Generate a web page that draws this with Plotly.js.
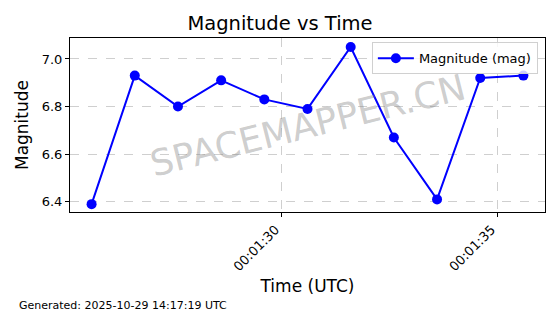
<!DOCTYPE html>
<html>
<head>
<meta charset="utf-8">
<script src="https://cdn.plot.ly/plotly-3.0.1.min.js"></script>
<style>html,body{margin:0;padding:0;background:#fff;}#chart{width:560px;height:314px;}</style>
</head>
<body>
<div id="chart"></div>
<script>
const times = ["1970-01-01 00:01:25.6","1970-01-01 00:01:26.6","1970-01-01 00:01:27.6","1970-01-01 00:01:28.6","1970-01-01 00:01:29.6","1970-01-01 00:01:30.6","1970-01-01 00:01:31.6","1970-01-01 00:01:32.6","1970-01-01 00:01:33.6","1970-01-01 00:01:34.6","1970-01-01 00:01:35.6"];
const magnitude = [6.39, 6.93, 6.80, 6.91, 6.83, 6.79, 7.05, 6.67, 6.41, 6.92, 6.93];
const xTickVals = ["1970-01-01 00:01:30","1970-01-01 00:01:35"];
const xTickText = ["00:01:30","00:01:35"];
const yTickVals = [6.4, 6.6, 6.8, 7.0];
const yTickText = ["6.4","6.6","6.8","7.0"];

const font = "DejaVu Sans, sans-serif";
const trace = {
  x: times, y: magnitude, type: "scatter", mode: "lines+markers",
  name: "Magnitude (mag)",
  line: {color: "#0000ff", width: 2},
  marker: {color: "#0000ff", size: 10}
};
const layout = {
  width: 560, height: 314,
  margin: {l: 70, r: 15, t: 38, b: 102},
  paper_bgcolor: "#fff", plot_bgcolor: "#fff",
  font: {family: font, color: "#000", size: 13},
  title: {text: "Magnitude vs Time", font: {size: 19.5, family: font}, x: 0.5, xanchor: "center", y: 0.925, yanchor: "middle"},
  xaxis: {
    type: "date",
    range: ["1970-01-01 00:01:25.1", "1970-01-01 00:01:36.1"],
    tickvals: xTickVals, ticktext: xTickText, tickangle: -45,
    ticklabelshift: -6,
    ticks: "outside", ticklen: 4, tickcolor: "#000",
    showline: true, linecolor: "#000", linewidth: 1, mirror: true,
    showgrid: true, gridcolor: "#cfcfcf", griddash: "dash", gridwidth: 1,
    zeroline: false,
    tickfont: {size: 13, family: font},
    title: {text: "Time (UTC)", font: {size: 17, family: font}, standoff: 6}
  },
  yaxis: {
    range: [6.357, 7.088],
    tickvals: yTickVals, ticktext: yTickText,
    ticks: "outside", ticklen: 4, tickcolor: "#000",
    showline: true, linecolor: "#000", linewidth: 1, mirror: true,
    showgrid: true, gridcolor: "#cfcfcf", griddash: "dash", gridwidth: 1,
    zeroline: false,
    tickfont: {size: 13, family: font},
    title: {text: "Magnitude", font: {size: 17, family: font}, standoff: 8}
  },
  showlegend: true,
  legend: {
    x: 0.985, y: 0.975, xanchor: "right", yanchor: "top",
    bgcolor: "rgba(255,255,255,0.8)", bordercolor: "#d0d0d0", borderwidth: 1,
    font: {size: 13, family: font}, itemwidth: 36
  },
  annotations: [
    {text: "SPACEMAPPER.CN", xref: "paper", yref: "paper", x: 0.5, y: 0.5,
     showarrow: false, textangle: -14,
     font: {size: 36, family: font, color: "rgba(128,128,128,0.4)"}},
    {text: "Generated: 2025-10-29 14:17:19 UTC", xref: "paper", yref: "paper",
     x: -0.1116, y: -0.535, xanchor: "left", yanchor: "middle", showarrow: false,
     font: {size: 11, family: font, color: "#000"}}
  ]
};
Plotly.newPlot("chart", [trace], layout, {displayModeBar: false, staticPlot: true});
</script>
</body>
</html>
